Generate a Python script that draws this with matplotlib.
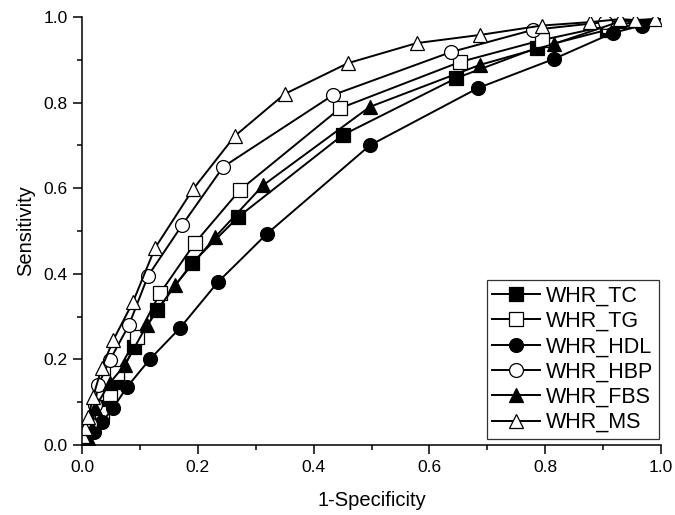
import matplotlib
matplotlib.use('Agg')
import matplotlib.pyplot as plt

plt.rcParams['font.family'] = ['Liberation Sans', 'DejaVu Sans']

# ROC curves (1-specificity, sensitivity)
tc_x = [0.0, 0.014, 0.033, 0.06, 0.09, 0.13, 0.19, 0.27, 0.45, 0.646, 0.786, 0.907, 1.0]
tc_y = [0.0, 0.035, 0.089, 0.147, 0.229, 0.316, 0.425, 0.533, 0.724, 0.857, 0.928, 0.97, 0.995]

tg_x = [0.0, 0.005, 0.035, 0.048, 0.06, 0.095, 0.135, 0.195, 0.273, 0.446, 0.653, 0.794, 0.91, 1.0]
tg_y = [0.0, 0.019, 0.075, 0.12, 0.168, 0.252, 0.355, 0.472, 0.596, 0.787, 0.895, 0.946, 0.98, 0.995]

hdl_x = [0.0, 0.02, 0.035, 0.054, 0.078, 0.117, 0.169, 0.235, 0.319, 0.497, 0.684, 0.815, 0.917, 0.967, 1.0]
hdl_y = [0.0, 0.03, 0.054, 0.087, 0.136, 0.2, 0.273, 0.381, 0.493, 0.70, 0.834, 0.902, 0.963, 0.98, 0.995]

hbp_x = [0.0, 0.014, 0.022, 0.028, 0.048, 0.081, 0.114, 0.173, 0.244, 0.434, 0.637, 0.779, 0.903, 1.0]
hbp_y = [0.0, 0.05, 0.093, 0.14, 0.198, 0.28, 0.395, 0.514, 0.65, 0.818, 0.918, 0.97, 0.988, 0.995]

fbs_x = [0.0, 0.012, 0.018, 0.022, 0.048, 0.074, 0.112, 0.161, 0.23, 0.313, 0.497, 0.687, 0.815, 0.93, 1.0]
fbs_y = [0.0, 0.012, 0.04, 0.086, 0.145, 0.187, 0.28, 0.374, 0.486, 0.607, 0.79, 0.888, 0.937, 0.99, 0.995]

ms_x = [0.0, 0.002, 0.005, 0.011, 0.019, 0.034, 0.054, 0.088, 0.126, 0.192, 0.264, 0.35, 0.459, 0.578, 0.687, 0.794, 0.877, 0.93, 0.955, 0.99]
ms_y = [0.0, 0.02, 0.04, 0.065, 0.112, 0.18, 0.245, 0.334, 0.46, 0.598, 0.722, 0.82, 0.892, 0.939, 0.958, 0.98, 0.988, 0.995, 0.993, 0.995]

series = [
    ('WHR_TC', tc_x, tc_y, 's', 'black'),
    ('WHR_TG', tg_x, tg_y, 's', 'white'),
    ('WHR_HDL', hdl_x, hdl_y, 'o', 'black'),
    ('WHR_HBP', hbp_x, hbp_y, 'o', 'white'),
    ('WHR_FBS', fbs_x, fbs_y, '^', 'black'),
    ('WHR_MS', ms_x, ms_y, '^', 'white'),
]

fig = plt.figure(figsize=(6.75, 5.15), dpi=100)
ax = fig.add_axes([82 / 675, 70 / 515, 579 / 675, 428 / 515])

for name, xs, ys, mk, fc in series:
    last = len(xs) - 1
    marks = [i for i in range(len(xs)) if xs[i] > 0 and i != last or (mk == '^' and fc == 'white' and i == last)]
    ax.plot(xs, ys, color='black', lw=1.4, marker=mk, ms=10.5 if mk == '^' else (10 if mk == 'o' else 9.5),
            mfc=fc, mec='black', mew=0.9, markevery=marks, label=name)

ax.set_xlim(0, 1)
ax.set_ylim(0, 1)
ax.set_xticks([0, 0.2, 0.4, 0.6, 0.8, 1.0])
ax.set_yticks([0, 0.2, 0.4, 0.6, 0.8, 1.0])
ax.set_xticks([0.1, 0.3, 0.5, 0.7, 0.9], minor=True)
ax.set_yticks([0.1, 0.3, 0.5, 0.7, 0.9], minor=True)
ax.xaxis.set_major_formatter(plt.FormatStrFormatter('%.1f'))
ax.yaxis.set_major_formatter(plt.FormatStrFormatter('%.1f'))
ax.tick_params(which='major', direction='out', length=6.5, width=1.1, labelsize=12.5, pad=4)
ax.tick_params(which='minor', direction='out', length=3.5, width=1.1)
ax.spines['top'].set_visible(False)
ax.spines['right'].set_visible(False)
ax.spines['left'].set_linewidth(1.1)
ax.spines['bottom'].set_linewidth(1.1)

ax.set_xlabel('1-Specificity', fontsize=14.5, labelpad=12)
ax.set_ylabel('Sensitivity', fontsize=14.5, labelpad=6)

leg = ax.legend(loc='lower right', fontsize=15.5, frameon=True, fancybox=False,
                edgecolor='black', borderaxespad=0.1, handlelength=2.2,
                handletextpad=0.3, labelspacing=0.2, borderpad=0.25,
                bbox_to_anchor=(1.0, 0.01))
leg.get_frame().set_linewidth(0.9)

plt.savefig('out.png', dpi=100)
